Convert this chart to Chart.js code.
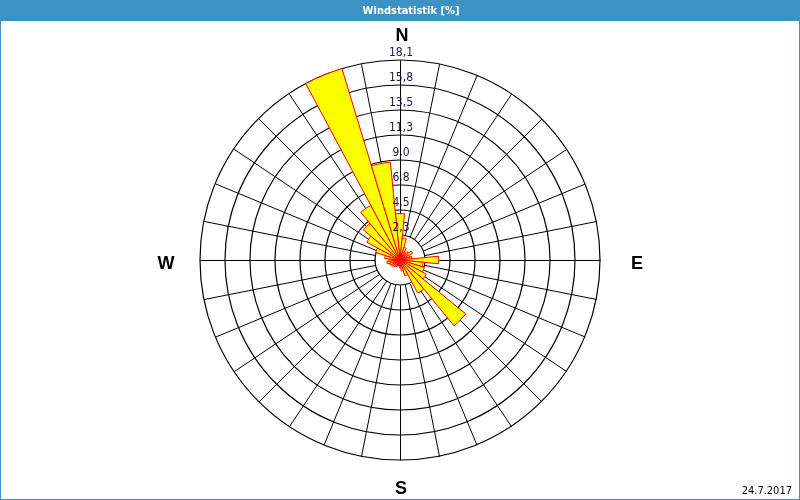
<!DOCTYPE html>
<html>
<head>
<meta charset="utf-8">
<script src="https://cdn.jsdelivr.net/npm/chart.js@4.4.0/dist/chart.umd.min.js"></script>
<style>
    html, body { margin: 0; padding: 0; background: #fff; }
    #wrap { width: 800px; height: 500px; }
</style>
</head>
<body>
<div id="wrap"><canvas id="windRose" width="800" height="500"></canvas></div>
<script>
// 32 Richtungen, im Uhrzeigersinn ab Nord (11.25 Grad)
var directions = ['N', 'NzO', 'NNO', 'NOzN', 'NO', 'NOzO', 'ONO', 'OzN',
                  'O', 'OzS', 'OSO', 'SOzO', 'SO', 'SOzS', 'SSO', 'SzO',
                  'S', 'SzW', 'SSW', 'SWzS', 'SW', 'SWzW', 'WSW', 'WzS',
                  'W', 'WzN', 'WNW', 'NWzW', 'NW', 'NWzN', 'NNW', 'NzW'];
var windShare = [4.2, 2.0, 1.2, 0.8, 1.0, 1.3, 0.9, 1.1,
                 3.5, 2.1, 2.3, 2.7, 7.7, 3.4, 1.5, 1.0,
                 0.7, 0.5, 0.6, 0.7, 0.8, 0.9, 1.0, 1.2,
                 1.0, 1.4, 2.3, 3.4, 4.3, 5.6, 18.1, 8.9];
var tickValues = [0, 2.2625, 4.525, 6.7875, 9.05, 11.3125, 13.575, 15.8375, 18.1];
var tickLabels = ['', '2,3', '4,5', '6,8', '9,0', '11,3', '13,5', '15,8', '18,1'];
var compassLabels = ['N', 'E', 'S', 'W'];
var titleText = 'Windstatistik [%]';
var dateText = '24.7.2017';

var frame = {
    id: 'frame',
    beforeDraw: function (chart) {
        var ctx = chart.ctx;
        ctx.save();
        ctx.fillStyle = '#ffffff';
        ctx.fillRect(0, 0, 800, 500);
        ctx.fillStyle = '#3d92c4';
        ctx.fillRect(0, 0, 800, 21);
        ctx.strokeStyle = '#3d92c4';
        ctx.lineWidth = 1;
        ctx.strokeRect(0.5, 0.5, 799, 499);
        ctx.fillStyle = '#ffffff';
        ctx.font = 'bold 11px "DejaVu Sans Condensed", "DejaVu Sans", sans-serif';
        ctx.textAlign = 'center';
        ctx.textBaseline = 'middle';
        ctx.fillText(titleText, 411, 11);
        ctx.restore();
    },
    beforeDatasetsDraw: function (chart) {
        // Speichen auf den Richtungen, vom inneren Ring bis aussen
        var r = chart.scales.r;
        var ctx = chart.ctx;
        var inner = r.getDistanceFromCenterForValue(tickValues[1]);
        var outer = r.getDistanceFromCenterForValue(r.max);
        var cx = r.xCenter + 0.5, cy = r.yCenter + 0.5;
        ctx.save();
        ctx.strokeStyle = '#000';
        ctx.lineWidth = 1;
        ctx.beginPath();
        for (var i = 0; i < directions.length; i++) {
            var a = (i * 360 / directions.length - 90) * Math.PI / 180;
            ctx.moveTo(cx + inner * Math.cos(a), cy + inner * Math.sin(a));
            ctx.lineTo(cx + outer * Math.cos(a), cy + outer * Math.sin(a));
        }
        ctx.stroke();
        ctx.restore();
    },
    afterDatasetsDraw: function (chart) {
        var r = chart.scales.r;
        var ctx = chart.ctx;
        ctx.save();
        ctx.textAlign = 'center';
        ctx.textBaseline = 'middle';
        ctx.fillStyle = '#1a1a40';
        ctx.font = '12px "DejaVu Sans Condensed", "DejaVu Sans", sans-serif';
        for (var i = 1; i < tickValues.length; i++) {
            var d = r.getDistanceFromCenterForValue(tickValues[i]);
            ctx.fillText(tickLabels[i], r.xCenter + 1, r.yCenter - d - 7);
        }
        ctx.fillStyle = '#000';
        ctx.font = 'bold 18px "Liberation Sans", Arial, sans-serif';
        ctx.fillText(compassLabels[0], r.xCenter + 2, r.yCenter - 224);
        ctx.fillText(compassLabels[1], r.xCenter + 237, r.yCenter + 4);
        ctx.fillText(compassLabels[2], r.xCenter + 1, r.yCenter + 229);
        ctx.fillText(compassLabels[3], r.xCenter - 234, r.yCenter + 4);
        ctx.font = '11px "DejaVu Sans Condensed", "DejaVu Sans", sans-serif';
        ctx.textAlign = 'right';
        ctx.fillText(dateText, 792, 491);
        ctx.restore();
    }
};

var ctx = document.getElementById('windRose').getContext('2d');
var windChart = new Chart(ctx, {
    type: 'polarArea',
    data: {
        labels: directions,
        datasets: [{
            data: windShare,
            backgroundColor: '#ffff00',
            borderColor: '#ff0000',
            borderWidth: 1
        }]
    },
    options: {
        responsive: false,
        animation: false,
        layout: { padding: { top: 60, bottom: 40, left: 200, right: 200 } },
        plugins: {
            legend: { display: false },
            tooltip: { enabled: false }
        },
        scales: {
            r: {
                min: 0,
                max: 18.1,
                startAngle: -5.625,
                afterBuildTicks: function (scale) {
                    scale.ticks = tickValues.map(function (v) { return { value: v }; });
                },
                ticks: { display: false },
                grid: { color: '#000', lineWidth: 1.2 },
                angleLines: { display: false },
                pointLabels: { display: false }
            }
        }
    },
    plugins: [frame]
});
</script>
</body>
</html>
